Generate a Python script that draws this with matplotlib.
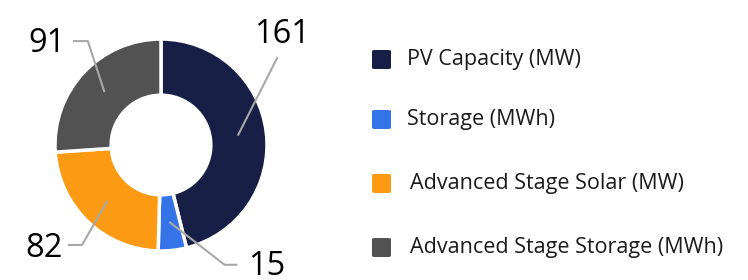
import matplotlib.pyplot as plt
from matplotlib.patches import FancyBboxPatch
import numpy as np

labels = ['PV Capacity (MW)', 'Storage (MWh)', 'Advanced Stage Solar (MW)', 'Advanced Stage Storage (MWh)']
values = [161, 15, 82, 91]
colors = ['#181f47', '#3574e8', '#fd9a14', '#525252']

plt.rcParams['font.family'] = ['Open Sans', 'DejaVu Sans']

fig = plt.figure(figsize=(7.48, 2.8), dpi=100)
# donut centre ~ (161,145) px, outer radius ~106 px
ax = fig.add_axes([55/748, 29/280, 212/748, 212/280])
wedges, _ = ax.pie(values, colors=colors, startangle=90, counterclock=False,
                   radius=1, wedgeprops=dict(width=0.53, edgecolor='white', linewidth=2.5))
ax.set_xlim(-1, 1)
ax.set_ylim(-1, 1)
ax.set_aspect('equal')
ax.axis('off')

# leader lines: (elbow, end of horizontal, text position, ha)
leaders = [
    ((1.10, 0.83), (1.10, 0.83), (1.14, 1.04), 'center'),
    ((0.60, -1.13), (0.72, -1.13), (0.82, -1.15), 'left'),
    ((-0.745, -0.943), (-0.88, -0.943), (-0.93, -0.975), 'right'),
    ((-0.69, 0.98), (-0.83, 0.98), (-0.90, 0.96), 'right'),
]
for w, v, (elbow, end, tpos, ha) in zip(wedges, values, leaders):
    ang = np.deg2rad((w.theta1 + w.theta2) / 2)
    p = (0.73 * np.cos(ang), 0.73 * np.sin(ang))
    ax.plot([p[0], elbow[0], end[0]], [p[1], elbow[1], end[1]], color='#a8a8a8',
            lw=1.5, clip_on=False, solid_capstyle='butt')
    ax.text(tpos[0], tpos[1], str(v), ha=ha, va='center', fontsize=23.5, color='#000000',
            clip_on=False)

# legend
rows_y = [59, 119, 183, 247]
text_x = [407, 407, 410, 410]
for lab, c, y, tx in zip(labels, colors, rows_y, text_x):
    sq = FancyBboxPatch((372/748, 1 - (y + 10)/280), 19/748, 19/280,
                        boxstyle='round,pad=0,rounding_size=0.004', transform=fig.transFigure,
                        facecolor=c, edgecolor='none')
    fig.patches.append(sq)
    fig.text(tx/748, 1 - (y + 1)/280, lab, ha='left', va='center', fontsize=15.5, color='#1a1a1a')

fig.savefig('out.png', dpi=100)
